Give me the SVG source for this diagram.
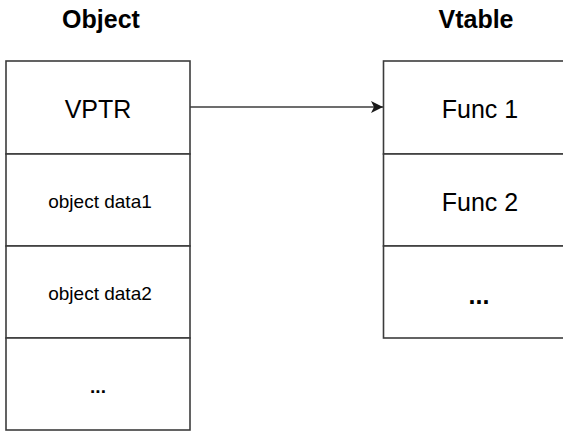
<svg xmlns="http://www.w3.org/2000/svg" width="563" height="431" viewBox="0 0 563 431">
  <style>
    .cell { fill: #ffffff; stroke: #3c3c3c; stroke-width: 1.6; }
    .title { font-family: "Liberation Sans", Arial, sans-serif; font-weight: bold; font-size: 25px; fill: #000; text-anchor: middle; }
    .big { font-family: "Liberation Sans", Arial, sans-serif; font-size: 25px; fill: #000; text-anchor: middle; }
    .small { font-family: "Liberation Sans", Arial, sans-serif; font-size: 19px; fill: #000; text-anchor: middle; }
    .conn { stroke: #3c3c3c; stroke-width: 1.6; fill: none; }
  </style>
  <defs>
    <marker id="arrow" markerUnits="userSpaceOnUse" markerWidth="14" markerHeight="14" refX="12" refY="6" orient="auto">
      <path d="M0,0 L12,6 L0,12 L3,6 Z" fill="#1a1a1a"/>
    </marker>
  </defs>
  <rect width="563" height="431" fill="#ffffff"/>

  <!-- Object column -->
  <g id="object-title">
    <text class="title" x="101" y="28">Object</text>
  </g>
  <g id="object-vptr">
    <rect class="cell" x="6" y="61" width="184" height="93"/>
    <text class="big" x="98" y="118">VPTR</text>
  </g>
  <g id="object-data1">
    <rect class="cell" x="6" y="154" width="184" height="92"/>
    <text class="small" x="100" y="208">object data1</text>
  </g>
  <g id="object-data2">
    <rect class="cell" x="6" y="246" width="184" height="92"/>
    <text class="small" x="100" y="300">object data2</text>
  </g>
  <g id="object-more">
    <rect class="cell" x="6" y="338" width="184" height="92"/>
    <text class="small" x="98" y="393" font-weight="bold">...</text>
  </g>

  <!-- Vtable column -->
  <g id="vtable-title">
    <text class="title" x="476" y="28">Vtable</text>
  </g>
  <g id="vtable-func1">
    <rect class="cell" x="383.5" y="61" width="193" height="93"/>
    <text class="big" x="480" y="118">Func 1</text>
  </g>
  <g id="vtable-func2">
    <rect class="cell" x="383.5" y="154" width="193" height="92"/>
    <text class="big" x="480" y="211">Func 2</text>
  </g>
  <g id="vtable-more">
    <rect class="cell" x="383.5" y="246" width="193" height="92"/>
    <text class="big" x="479" y="304" font-weight="bold">...</text>
  </g>

  <!-- Connectors -->
  <g id="connectors">
    <line class="conn" x1="190" y1="107" x2="383" y2="107" marker-end="url(#arrow)"/>
  </g>
</svg>
